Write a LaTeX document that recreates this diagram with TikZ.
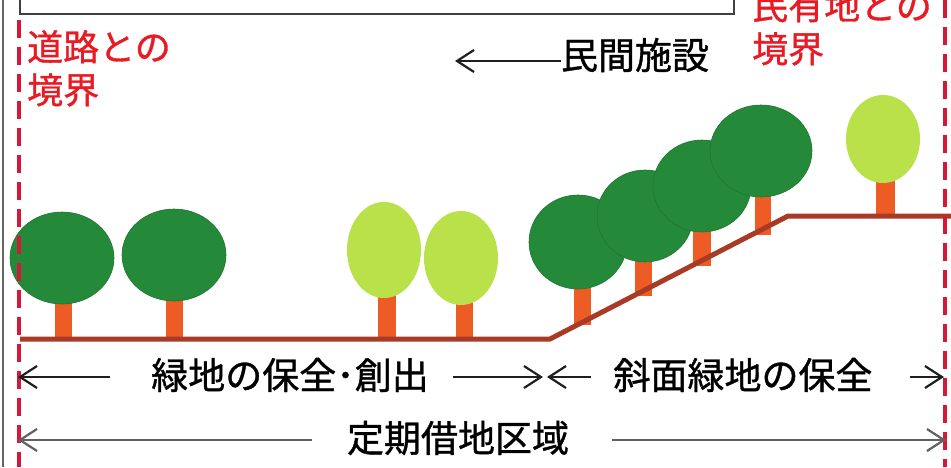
\documentclass[tikz,border=0pt]{standalone}
\usepackage{fontspec}
\newfontfamily\jp[FakeBold=1]{Noto Sans CJK JP}
\usetikzlibrary{arrows.meta}

\definecolor{leafdark}{RGB}{36,138,58}
\definecolor{leaflight}{RGB}{184,225,74}
\definecolor{trunkorange}{RGB}{238,92,38}
\definecolor{soilbrown}{RGB}{168,58,38}
\definecolor{boundred}{RGB}{232,26,36}
\definecolor{dashred}{RGB}{214,24,56}

\begin{document}
\begin{tikzpicture}[
  x=1pt, y=-1pt,
  lbl/.style={font=\jp\fontsize{37}{44}\selectfont, inner sep=0pt},
  bound/.style={font=\jp\fontsize{36}{43}\selectfont, text=boundred, align=left, inner sep=0pt, anchor=north west},
  arr/.style={-{Straight Barb[length=17pt,width=22pt]}, line width=2.2pt, draw=black!88},
  arrgray/.style={arr, draw=black!62},
  border/.style={draw=dashred, line width=3.6pt, dash pattern=on 18pt off 9pt},
  crown/.style={fill=leafdark, draw=leafdark!85!black, line width=0.6pt},
  young/.style={fill=leaflight},
  trunk/.style={fill=trunkorange},
  ground/.style={draw=soilbrown, line width=5pt, line join=round}
]
\useasboundingbox (0,0) rectangle (951,467);

% frame and facility box
\draw[black!60, line width=1.6pt] (3,0) -- (3,467);
\draw[black!75, line width=2pt] (20,-4) -- (20,14) -- (734,14) -- (734,-4);

% trees on the flat part
\fill[trunk] (55,298) rectangle (72,341);
\fill[crown] (62,258) ellipse [x radius=52, y radius=46];
\fill[trunk] (166,296) rectangle (183,341);
\fill[crown] (174,255) ellipse [x radius=52, y radius=46];
\fill[trunk] (378,292) rectangle (396,341);
\fill[young] (384,250) ellipse [x radius=37, y radius=48];
\fill[trunk] (456,300) rectangle (473,341);
\fill[young] (461,258) ellipse [x radius=37, y radius=47];

% trees on the slope
\fill[trunk] (574,282) rectangle (591,325);
\fill[crown] (578,242) ellipse [x radius=49, y radius=47];
\fill[trunk] (635,255) rectangle (652,296);
\fill[crown] (645,216) ellipse [x radius=48, y radius=46];
\fill[trunk] (693,225) rectangle (711,266);
\fill[crown] (702,186) ellipse [x radius=49, y radius=46];
\fill[trunk] (755,190) rectangle (771,235);
\fill[crown] (761,151) ellipse [x radius=51, y radius=46];

% tree on the upper level
\fill[trunk] (876,178) rectangle (895,218);
\fill[young] (883,139) ellipse [x radius=37, y radius=44];

% ground line
\draw[ground] (20,339) -- (550,339) -- (788,216) -- (951,216);

% boundaries
\draw[border] (19,20) -- (19,467);
\draw[border] (945,0) -- (945,467);
\node[bound] (roadedge) at (27,30) {道路との\\境界};
\node[bound] (privedge) at (752,-11) {民有地との\\境界};

% facility label
\node[lbl] (facility) at (635,55) {民間施設};
\coordinate (facend) at (455,61);
\draw[arr] (facility.west |- facend) -- (facend);

% zones
\node[lbl] (keep) at (290,375) {緑地の保全･創出};
\node[lbl] (slope) at (743,375) {斜面緑地の保全};
\node[lbl] (lease) at (458,438) {定期借地区域};

\coordinate (keepL) at (18,377);
\coordinate (keepR) at (543,377);
\coordinate (slopeL) at (547,377);
\coordinate (slopeR) at (944,377);
\coordinate (leaseL) at (18,440);
\coordinate (leaseR) at (946,440);

\draw[arr, shorten <=41pt] (keep.west |- keepL) -- (keepL);
\draw[arr, shorten <=24pt] (keep.east |- keepR) -- (keepR);
\draw[arr, shorten <=22pt] (slope.west |- slopeL) -- (slopeL);
\draw[arr, shorten <=37pt] (slope.east |- slopeR) -- (slopeR);
\draw[arrgray, shorten <=35pt] (lease.west |- leaseL) -- (leaseL);
\draw[arrgray, shorten <=43pt] (lease.east |- leaseR) -- (leaseR);

\end{tikzpicture}
\end{document}
